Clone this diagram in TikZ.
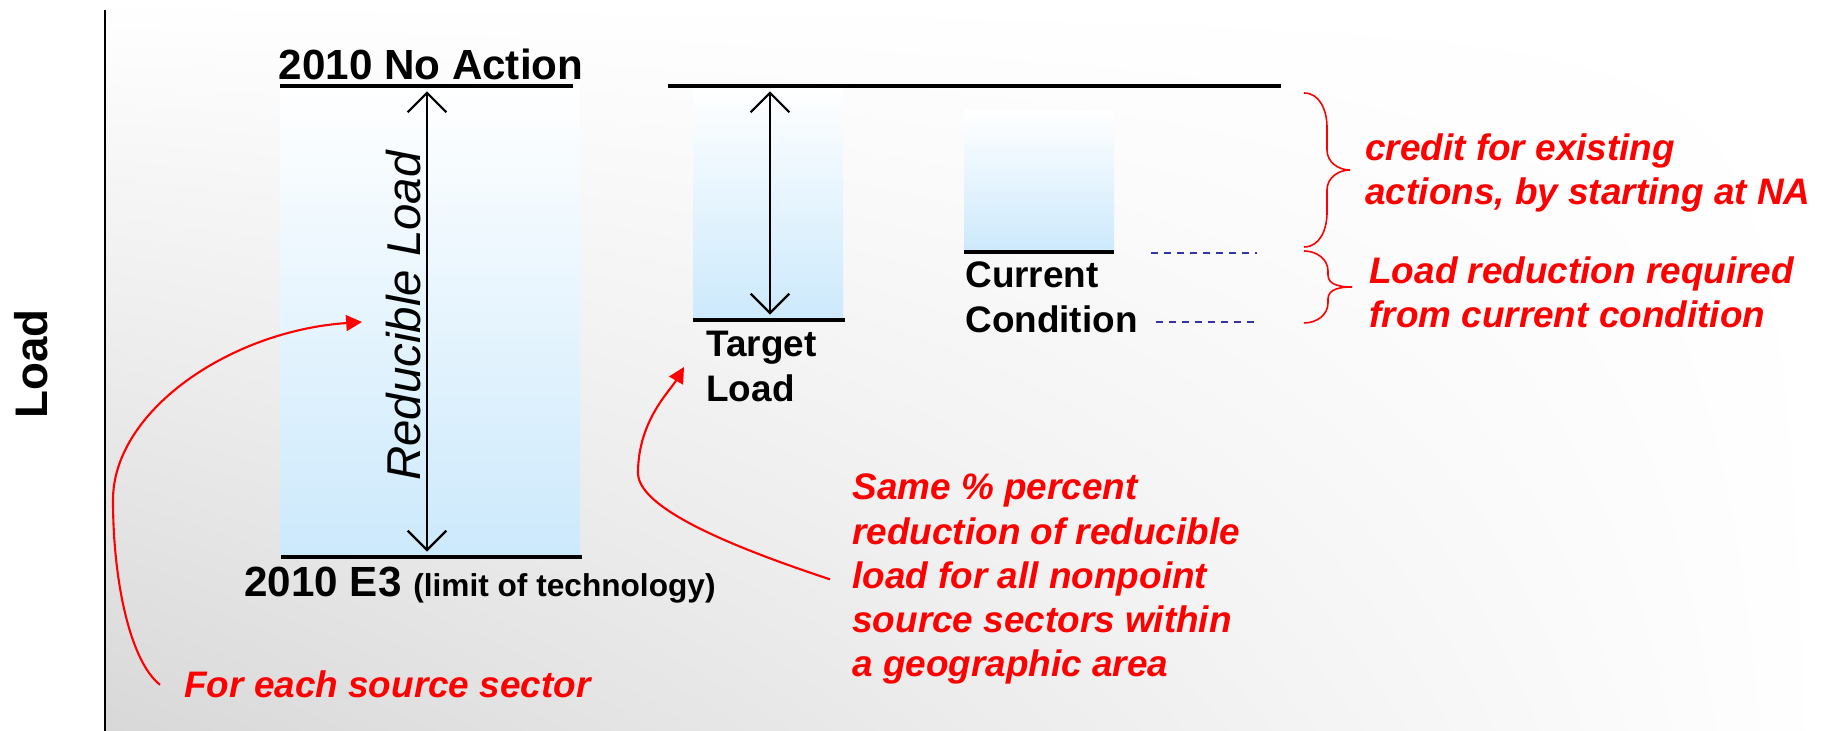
\documentclass[tikz,border=0pt]{standalone}
\usepackage{fontspec}
\setmainfont{Liberation Sans}
\usetikzlibrary{arrows.meta,shadings}
\definecolor{boxblue}{RGB}{204,233,252}
\definecolor{bggray}{RGB}{216,216,216}
\definecolor{guideblue}{RGB}{51,51,170}
\tikzset{
  bar/.style={line width=1.3pt},
  span/.style={line width=0.65pt, shorten <=1.5pt, shorten >=1.5pt,
    {Straight Barb[length=5.5pt,width=11pt]}-{Straight Barb[length=5.5pt,width=11pt]}},
  callout/.style={red, line width=0.6pt, -{Triangle[length=4.5pt,width=4.5pt]}},
  curly/.style={red, line width=0.45pt},
  guide/.style={guideblue, line width=0.35pt, dash pattern=on 2pt off 1.7pt},
  lbl/.style={font=\bfseries\fontsize{10.5}{12.8}\selectfont, align=left},
  note/.style={text=red, font=\bfseries\itshape\fontsize{10.5}{12.6}\selectfont, align=left},
  level/.style={font=\bfseries\fontsize{12}{14}\selectfont}
}
\begin{document}
\begin{tikzpicture}
  \useasboundingbox (0,0) rectangle (18.26,7.31);
  % background and load axis
  \shade[upper left=white, upper right=white, lower right=white, lower left=bggray]
    (1.05,0) rectangle (18.26,7.31);
  \draw[line width=0.7pt] (1.05,7.21) -- (1.05,0);
  \node[rotate=90, anchor=base, font=\bfseries\fontsize{13}{15}\selectfont] (axis) at (0.47,3.67) {Load};

  % columns
  \shade[top color=white, bottom color=boxblue] (2.80,1.74) rectangle (5.80,6.45);
  \shade[top color=white, bottom color=boxblue] (6.93,4.11) rectangle (8.43,6.45);
  \shade[top color=white, bottom color=boxblue] (9.64,4.79) rectangle (11.14,6.20);

  % load levels
  \draw[bar] (2.80,6.45) -- (5.73,6.45);
  \draw[bar] (2.81,1.74) -- (5.82,1.74);
  \draw[bar] (6.68,6.45) -- (12.81,6.45);
  \draw[bar] (6.93,4.11) -- (8.45,4.11);
  \draw[bar] (9.64,4.79) -- (11.14,4.79);

  \coordinate (na) at (4.27,6.45);
  \coordinate (e3) at (4.27,1.74);
  \coordinate (natop) at (7.70,6.45);
  \coordinate (tl) at (7.70,4.11);
  \draw[span] (na) -- (e3);
  \draw[span] (natop) -- (tl);

  \node[level, anchor=base] (natxt) at (4.31,6.51) {2010 No Action};
  \node[level, anchor=base] (e3txt) at (4.80,1.34) {2010 E3 {\fontsize{9}{11}\selectfont(limit of technology)}};
  \node[rotate=90, anchor=base, font=\itshape\fontsize{13.5}{16}\selectfont] (redload) at (4.20,4.15) {Reducible Load};
  \node[lbl, anchor=base west] (target) at (6.94,3.29) {Target\\Load};
  \node[lbl, anchor=base west] (current) at (9.53,3.98) {Current\\Condition};

  % notes
  \node[note, anchor=base west] (sector) at (1.72,0.33) {For each source sector};
  \node[note, anchor=base west] (same) at (8.40,0.54) {Same \% percent\\reduction of reducible\\load for all nonpoint\\source sectors within\\a geographic area};
  \node[note, anchor=base west] (credit) at (13.53,5.26) {credit for existing\\actions, by starting at NA};
  \node[note, anchor=base west] (required) at (13.57,4.03) {Load reduction required\\from current condition};

  \coordinate (redtip) at (3.62,4.09);
  \coordinate (tltip) at (6.84,3.64);
  \draw[callout] ([xshift=-1.2mm]sector.west) .. controls (1.30,0.70) and (1.13,1.5) .. (1.13,2.31)
    .. controls (1.13,3.2) and (2.3,4.0) .. (redtip);
  \draw[callout] ([xshift=-1mm]same.west) .. controls (7.6,1.75) and (6.38,2.18) .. (6.38,2.58)
    .. controls (6.38,3.1) and (6.7,3.4) .. (tltip);

  % braces and guides
  \draw[curly] (13.04,6.38) to[out=0,in=90] (13.27,6.04) -- (13.27,5.81) to[out=-90,in=180] (13.50,5.61)
    to[out=180,in=90] (13.27,5.41) -- (13.27,5.18) to[out=-90,in=0] (13.04,4.84);
  \draw[curly] (13.04,4.80) to[out=0,in=90] (13.28,4.60) -- (13.28,4.56) to[out=-90,in=180] (13.52,4.44)
    to[out=180,in=90] (13.28,4.32) -- (13.28,4.28) to[out=-90,in=0] (13.04,4.08);
  \draw[guide] (11.51,4.78) -- (12.57,4.78);
  \draw[guide] (11.56,4.09) -- (12.60,4.09);
\end{tikzpicture}
\end{document}
